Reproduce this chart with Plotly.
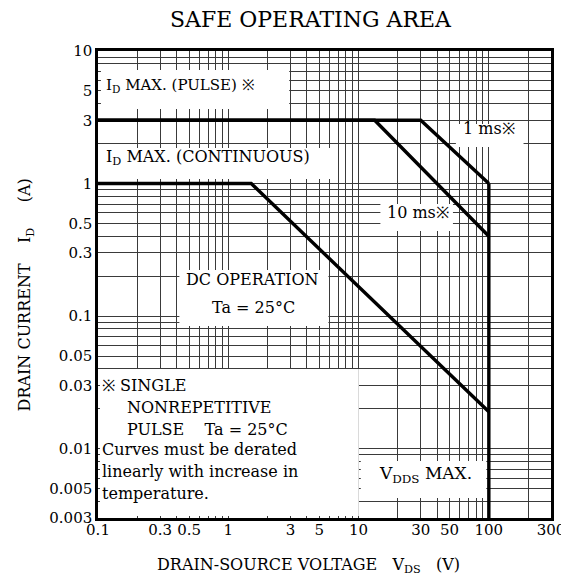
import plotly.graph_objects as go

# ---- data ----
pulse_1ms_v = [0.1, 30, 100]
pulse_1ms_i = [3, 3, 1]
pulse_10ms_v = [0.1, 13.3, 100]
pulse_10ms_i = [3, 3, 0.4]
dc_v = [0.1, 1.5, 100]
dc_i = [1, 1, 0.019]
vdds_v = [100, 100]
vdds_i = [0.003, 1]

x_labels = {0.1: "0.1", 0.3: "0.3", 0.5: "0.5", 1: "1", 3: "3", 5: "5",
            10: "10", 30: "30", 50: "50", 100: "100", 300: "300"}
y_labels = {0.003: "0.003", 0.005: "0.005", 0.01: "0.01", 0.03: "0.03", 0.05: "0.05",
            0.1: "0.1", 0.3: "0.3", 0.5: "0.5", 1: "1", 3: "3", 5: "5", 10: "10"}

def grid_vals(lo, hi):
    vals = []
    for dec in [0.001, 0.01, 0.1, 1, 10, 100]:
        for m in range(1, 10):
            v = round(m * dec, 6)
            if lo - 1e-9 <= v <= hi + 1e-9:
                vals.append(v)
    return vals

xv = grid_vals(0.1, 300)
yv = grid_vals(0.003, 10)

FONT = "DejaVu Serif"
L, R, T, B = 90, 552, 43, 510
W, H = 569, 577

def fx(px):
    return (px - L) / (R - L)

def fy(py):
    return (B - py) / (B - T)

fig = go.Figure()
for xs, ys in [(pulse_1ms_v, pulse_1ms_i), (pulse_10ms_v, pulse_10ms_i),
               (dc_v, dc_i), (vdds_v, vdds_i)]:
    fig.add_trace(go.Scatter(x=xs, y=ys, mode="lines",
                             line=dict(color="black", width=3.4),
                             hoverinfo="skip", showlegend=False))

# white boxes behind labels (cover the grid, do not touch the curves)
boxes = [
    (93, 62, 285, 101),     # ID MAX (PULSE)
    (93, 140, 332, 171),    # ID MAX (CONTINUOUS)
    (455, 116, 524, 139),   # 1 ms
    (378, 196, 452, 223),   # 10 ms
    (173, 262, 325, 318),   # DC operation
    (92, 361, 356, 508),    # note area
    (358, 453, 486, 490),   # VDDS MAX
]
for x0, y0, x1, y1 in boxes:
    fig.add_shape(type="rect", xref="paper", yref="paper",
                  x0=fx(x0), x1=fx(x1), y0=fy(y1), y1=fy(y0),
                  fillcolor="white", line=dict(width=0), layer="above")

def ann(text, px, py, xanchor="left", size=16):
    fig.add_annotation(text=text, xref="paper", yref="paper", x=fx(px), y=fy(py),
                       xanchor=xanchor, yanchor="middle", showarrow=False,
                       font=dict(family=FONT, size=size, color="black"))

ann("I<sub>D</sub> MAX. (PULSE) ※", 96, 77, size=15)
ann("I<sub>D</sub> MAX. (CONTINUOUS)", 96, 150, size=16)
ann("1 ms※", 489, 120, "center")
ann("10 ms※", 416, 204, "center")
ann("DC OPERATION", 248, 271, "center")
ann("Ta = 25°C", 249, 299, "center")
ann("※ SINGLE", 92, 377)
ann("NONREPETITIVE", 118, 399)
ann("PULSE    Ta = 25°C", 118, 421)
ann("Curves must be derated", 92, 441)
ann("linearly with increase in", 92, 463)
ann("temperature.", 92, 485)
ann("V<sub>DDS</sub> MAX.", 424, 466, "center", size=17)

# titles
fig.add_annotation(text="SAFE OPERATING AREA", xref="paper", yref="paper",
                   x=fx(307), y=fy(12), xanchor="center", yanchor="middle",
                   showarrow=False, font=dict(family=FONT, size=22, color="black"))
fig.add_annotation(text="DRAIN-SOURCE VOLTAGE   V<sub>DS</sub>   (V)", xref="paper", yref="paper",
                   x=fx(305), y=fy(557), xanchor="center", yanchor="middle",
                   showarrow=False, font=dict(family=FONT, size=16, color="black"))
fig.add_annotation(text="DRAIN CURRENT    I<sub>D</sub>     (A)", xref="paper", yref="paper",
                   x=fx(16), y=fy(287), xanchor="center", yanchor="middle", textangle=-90,
                   showarrow=False, font=dict(family=FONT, size=16, color="black"))

axis_common = dict(type="log", showgrid=True, gridcolor="#3a3a3a", gridwidth=1,
                   showline=True, linecolor="black", linewidth=2.5, mirror=True,
                   ticks="", zeroline=False, tickfont=dict(family=FONT, size=15, color="black"))

fig.update_xaxes(range=[-1, 2.4771], tickmode="array", tickvals=xv,
                 ticktext=[x_labels.get(v, "") for v in xv], ticklabelstandoff=-4,
                 **axis_common)
fig.update_yaxes(range=[-2.5229, 1], tickmode="array", tickvals=yv,
                 ticktext=[y_labels.get(v, "") for v in yv], **axis_common)

fig.update_layout(width=W, height=H, margin=dict(l=L, r=W - R, t=T, b=H - B),
                  plot_bgcolor="white", paper_bgcolor="white",
                  font=dict(family=FONT, color="black"))

fig.write_html("out.html")
